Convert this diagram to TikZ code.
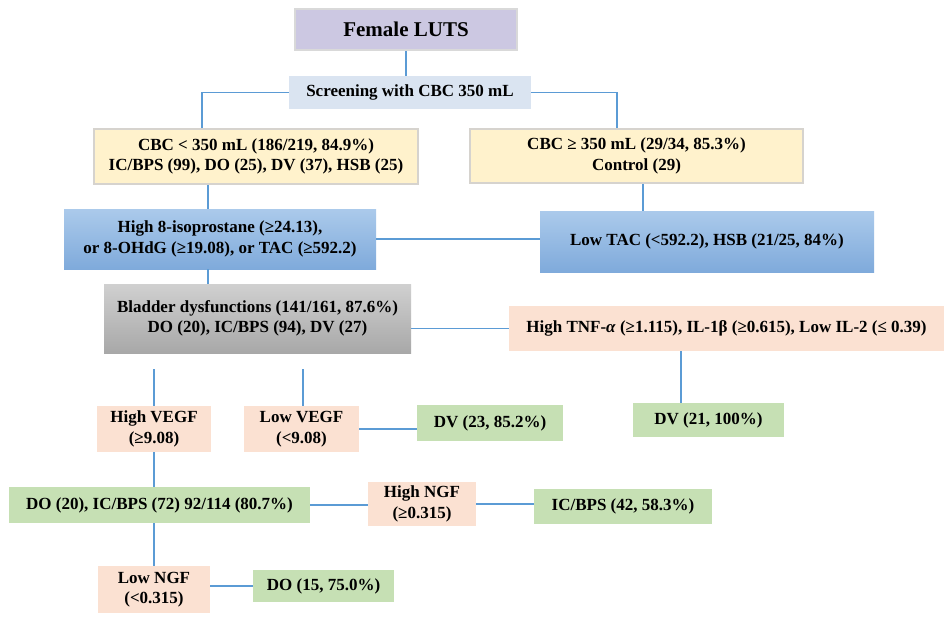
\documentclass[tikz,border=0pt]{standalone}
\usepackage{fontspec}
\setmainfont{Liberation Serif}
\usetikzlibrary{calc}
\definecolor{lnc}{HTML}{5B9BD5}
\definecolor{lav}{HTML}{CCC8E2}
\definecolor{scr}{HTML}{DAE4F1}
\definecolor{yel}{HTML}{FFF2CC}
\definecolor{yelb}{HTML}{D6D3CE}
\definecolor{bluetop}{HTML}{ABCAEB}
\definecolor{bluebot}{HTML}{7FAADB}
\definecolor{graytop}{HTML}{D0D0D0}
\definecolor{graybot}{HTML}{A8A8A8}
\definecolor{pch}{HTML}{FBE1D2}
\definecolor{grn}{HTML}{C6E0B4}
\begin{document}
\begin{tikzpicture}[x=1pt,y=-1pt]
\tikzset{
  box/.style={inner sep=0pt, font=\bfseries\fontsize{17}{20.5}\selectfont, align=center, text=black},
  conn/.style={draw=lnc, line width=1.3pt},
  yelbox/.style={box, fill=yel, draw=yelb, line width=1.5pt},
  bluebox/.style={box, top color=bluetop, bottom color=bluebot},
  graybox/.style={box, top color=graytop, bottom color=graybot},
  pchbox/.style={box, fill=pch},
  grnbox/.style={box, fill=grn}
}
\useasboundingbox[fill=white] (0,0) rectangle (944,619);

\node[box, fill=lav, draw=black!15, line width=1.5pt, minimum width=222pt, minimum height=41pt, font=\bfseries\fontsize{21}{25}\selectfont] (female) at (406,29.5) {Female LUTS};
\node[box, fill=scr, minimum width=242pt, minimum height=33pt] (screen) at (410,92.5) {Screening with CBC 350 mL};
\node[yelbox, minimum width=324pt, minimum height=55pt] (lyel) at (256,156.5) {CBC < 350 mL (186/219, 84.9\%)\\IC/BPS (99), DO (25), DV (37), HSB (25)};
\node[yelbox, minimum width=333pt, minimum height=54pt] (ryel) at (636.5,156) {CBC ≥ 350 mL (29/34, 85.3\%)\\Control (29)};
\node[bluebox, minimum width=312pt, minimum height=60pt] (lblue) at (220,239) {High 8-isoprostane (≥24.13),\\or 8-OHdG (≥19.08), or TAC (≥592.2)};
\node[bluebox, minimum width=334pt, minimum height=61pt] (rblue) at (707,241.5) {Low TAC (<592.2), HSB (21/25, 84\%)};
\node[graybox, minimum width=307pt, minimum height=69pt] (gray) at (257.5,318.5) {Bladder dysfunctions (141/161, 87.6\%)\\DO (20), IC/BPS (94), DV (27)};
\node[pchbox, minimum width=435pt, minimum height=45pt] (tnf) at (726.5,328.5) {High TNF-\textit{α} (≥1.115), IL-1β (≥0.615), Low IL-2 (≤ 0.39)};
\node[grnbox, minimum width=151pt, minimum height=34pt] (dv21) at (708.5,420) {DV (21, 100\%)};
\node[pchbox, minimum width=114pt, minimum height=46pt] (hvegf) at (154,429) {High VEGF\\(≥9.08)};
\node[pchbox, minimum width=115pt, minimum height=46pt] (lvegf) at (301.5,429) {Low VEGF\\(<9.08)};
\node[grnbox, minimum width=146pt, minimum height=36pt] (dv23) at (490,423) {DV (23, 85.2\%)};
\node[grnbox, minimum width=301pt, minimum height=36pt] (big) at (159.5,505) {DO (20), IC/BPS (72) 92/114 (80.7\%)};
\node[pchbox, minimum width=108pt, minimum height=44pt] (hngf) at (422,504) {High NGF\\(≥0.315)};
\node[grnbox, minimum width=178pt, minimum height=35pt] (icbps) at (623,506.5) {IC/BPS (42, 58.3\%)};
\node[pchbox, minimum width=112pt, minimum height=47pt] (lngf) at (154,589.5) {Low NGF\\(<0.315)};
\node[grnbox, minimum width=141pt, minimum height=32pt] (do15) at (323.5,586) {DO (15, 75.0\%)};

\coordinate (xa) at (202,0);
\coordinate (xb) at (617,0);
\coordinate (xc) at (208,0);
\coordinate (xd) at (643,0);
\coordinate (xe) at (681,0);
\coordinate (g1) at (154,369);
\coordinate (g2) at (303,369);

\draw[conn] (female.south) -- (female.south |- screen.north);
\draw[conn] (screen.west) -| (lyel.north -| xa);
\draw[conn] (screen.east) -| (ryel.north -| xb);
\draw[conn] (lyel.south -| xc) -- (lblue.north -| xc);
\draw[conn] (ryel.south -| xd) -- (rblue.north -| xd);
\draw[conn] (lblue.east) -- (lblue.east -| rblue.west);
\draw[conn] (lblue.south -| xc) -- (gray.north -| xc);
\draw[conn] (tnf.west -| gray.east) -- (tnf.west);
\draw[conn] (tnf.south -| xe) -- (dv21.north -| xe);
\draw[conn] (g1) -- (g1 |- hvegf.north);
\draw[conn] (g2) -- (g2 |- lvegf.north);
\draw[conn] (lvegf.east) -- (lvegf.east -| dv23.west);
\draw[conn] (hvegf.south) -- (hvegf.south |- big.north);
\draw[conn] (big.east) -- (big.east -| hngf.west);
\draw[conn] (hngf.east) -- (hngf.east -| icbps.west);
\draw[conn] (big.south -| lngf.north) -- (lngf.north);
\draw[conn] (do15.west -| lngf.east) -- (do15.west);
\end{tikzpicture}
\end{document}
